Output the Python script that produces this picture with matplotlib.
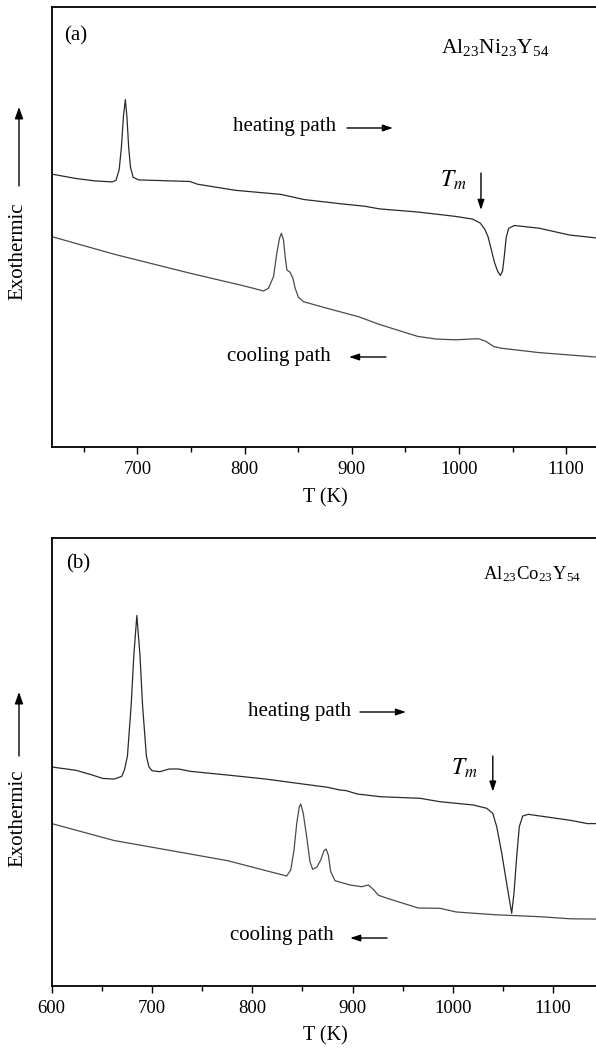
import matplotlib
matplotlib.use("Agg")
import matplotlib.pyplot as plt
from matplotlib.ticker import MultipleLocator

plt.rcParams['font.family'] = ['Liberation Serif', 'DejaVu Serif']
plt.rcParams['mathtext.fontset'] = 'stix'

# ---------------- data (arbitrary heat-flow units) ----------------
# Panel (a) Al23Ni23Y54
a_heat_T = [620, 642.7, 660.4, 676.4, 680.0, 683.0, 685.0, 687.0, 688.7, 690.2, 691.8, 693.5,
            696.0, 701.1, 749.0, 756.0, 791.4, 833.9, 855.1, 890.6, 911.8, 925.9, 961.4,
            996.7, 1012.7, 1019.8, 1024.0, 1027.0, 1030.0, 1033.0, 1036.0, 1038.5, 1040.5,
            1042.1, 1044.0, 1046.3, 1051.6, 1074.6, 1103.0, 1131.0]
a_heat_S = [273.2, 268.8, 266.4, 265.4, 267.0, 278.0, 300.0, 332.0, 347.6, 330.0, 300.0, 280.0,
            270.0, 267.4, 265.8, 263.1, 257.0, 252.9, 247.8, 243.4, 241.1, 238.4, 235.3,
            230.9, 228.2, 224.2, 218.0, 210.7, 198.0, 185.0, 176.0, 171.8, 176.0,
            190.0, 210.0, 219.0, 221.8, 219.1, 212.3, 209.0]

a_cool_T = [620, 678.2, 749.0, 795.8, 808.2, 817.5, 822.2, 826.9, 830.0, 832.5, 834.3, 836.2,
            837.8, 839.4, 842.4, 845.0, 847.1, 850.2, 854.9, 873.5, 906.2, 925.9, 961.4,
            979.1, 996.7, 1018.0, 1025.1, 1032.2, 1039.2, 1074.6, 1131.0]
a_cool_S = [210.7, 193.1, 174.1, 162.3, 159.0, 156.3, 159.0, 170.6, 194.0, 209.0, 214.0, 207.3,
            190.6, 177.3, 175.0, 169.0, 159.0, 150.0, 145.6, 140.0, 130.6, 122.8, 110.9,
            108.2, 107.5, 108.6, 105.9, 100.8, 99.1, 94.7, 90.0]

# Panel (b) Al23Co23Y54
b_heat_T = [600, 624.3, 639.4, 650.8, 662.2, 669.8, 672.5, 675.5, 679.2, 681.9, 684.9, 688.0,
            690.6, 694.4, 697.0, 700.1, 707.7, 717.1, 726.6, 738.0, 775.9, 813.8, 851.7,
            874.5, 887.4, 893.4, 904.8, 927.5, 967.2, 987.1, 1020.3, 1033.7, 1039.7, 1043.7,
            1048.7, 1053.6, 1058.6, 1060.9, 1063.6, 1066.2, 1069.6, 1075.2, 1086.8, 1117.1,
            1134.2, 1147.0]
b_heat_S = [219.0, 215.7, 211.3, 207.6, 206.9, 209.6, 216.0, 229.8, 280.4, 331.0, 370.5, 331.0,
            280.4, 229.8, 219.0, 215.3, 214.3, 217.0, 217.0, 214.7, 210.9, 206.9, 201.8,
            198.8, 196.0, 195.4, 192.0, 189.3, 187.7, 184.3, 181.0, 177.7, 172.7, 159.3,
            132.7, 102.7, 72.7, 92.7, 129.3, 159.3, 170.0, 171.7, 170.0, 165.7,
            162.4, 162.4]

b_cool_T = [600, 662.2, 738.0, 775.9, 817.6, 834.3, 838.3, 841.6, 844.3, 846.9, 848.3, 850.8,
            854.2, 857.5, 860.2, 864.2, 868.2, 871.5, 873.5, 875.8, 878.2, 882.5, 897.4,
            909.1, 915.7, 920.6, 925.6, 935.1, 965.5, 987.1, 1003.4, 1041.3, 1086.8, 1117.1,
            1147.0]
b_cool_S = [162.4, 145.5, 132.0, 125.2, 114.3, 110.0, 116.0, 136.0, 162.7, 179.3, 182.0, 172.7,
            149.3, 124.3, 116.7, 118.7, 126.0, 135.3, 137.0, 131.0, 114.3, 105.3, 101.0,
            99.3, 101.0, 96.7, 90.8, 87.5, 78.0, 77.7, 74.0, 71.3, 69.3, 67.2,
            66.9]

xlabel = 'T (K)'
ylabel = 'Exothermic'
formula_a = r'Al$_{\mathregular{23}}$Ni$_{\mathregular{23}}$Y$_{\mathregular{54}}$'
formula_b = r'Al$_{\mathregular{23}}$Co$_{\mathregular{23}}$Y$_{\mathregular{54}}$'

W, H = 596, 1049
fig = plt.figure(figsize=(W / 100, H / 100), dpi=100)

def make_axes(left_px, top_px, bottom_px, right_px, xmin, px_per_k):
    ax = fig.add_axes([left_px / W, 1 - bottom_px / H, (right_px - left_px) / W,
                       (bottom_px - top_px) / H])
    ax.set_xlim(xmin, xmin + (right_px - left_px) / px_per_k)
    ax.set_ylim(0, bottom_px - top_px)
    ax.set_yticks([])
    ax.spines['right'].set_visible(False)
    for s in ax.spines.values():
        s.set_linewidth(1.3)
    ax.xaxis.set_major_locator(MultipleLocator(100))
    ax.xaxis.set_minor_locator(MultipleLocator(50))
    ax.tick_params(axis='x', which='major', direction='out', length=5, width=1,
                   labelsize=13.5, pad=5)
    ax.tick_params(axis='x', which='minor', direction='out', length=3.5, width=1)
    ax.set_xlabel(xlabel, fontsize=14.5, labelpad=7)
    return ax

ax1 = make_axes(51.7, 7.0, 447.3, 600, 620, 1.072)
ax2 = make_axes(51.7, 537.7, 986.0, 600, 600, 1.003)

ax1.plot(a_heat_T, a_heat_S, color='#2a2a2a', lw=0.9)
ax1.plot(a_cool_T, a_cool_S, color='#4a4a4a', lw=0.9)
ax2.plot(b_heat_T, b_heat_S, color='#2a2a2a', lw=0.9)
ax2.plot(b_cool_T, b_cool_S, color='#4a4a4a', lw=0.9)

arrow_kw = dict(arrowstyle='-|>,head_length=0.6,head_width=0.2', color='black', lw=1.0,
                shrinkA=0, shrinkB=0)

def annotate(ax, label, formula, heat_xy, heat_arr, tm_xy, tm_arr, cool_xy, cool_arr,
             lab_xy, form_xy, form_size, form_ha):
    t = ax.transAxes
    ax.text(*lab_xy, label, transform=t, fontsize=15, ha='center', va='center')
    ax.text(*form_xy, formula, transform=t, fontsize=form_size, ha=form_ha, va='center')
    ax.text(*heat_xy, 'heating path', transform=t, fontsize=15, ha='center', va='center')
    ax.annotate('', xy=heat_arr[1], xytext=heat_arr[0], xycoords=t, textcoords=t, arrowprops=arrow_kw)
    ax.text(*tm_xy, r'$T_m$', transform=t, fontsize=17, ha='center', va='center')
    ax.annotate('', xy=tm_arr[1], xytext=tm_arr[0], xycoords=t, textcoords=t, arrowprops=arrow_kw)
    ax.text(*cool_xy, 'cooling path', transform=t, fontsize=15, ha='center', va='center')
    ax.annotate('', xy=cool_arr[1], xytext=cool_arr[0], xycoords=t, textcoords=t, arrowprops=arrow_kw)

annotate(ax1, '(a)', formula_a,
         (0.4246, 0.7275), ((0.5386, 0.7252), (0.6224, 0.7252)),
         (0.732, 0.607), ((0.7829, 0.623), (0.7829, 0.539)),
         (0.4136, 0.2051), ((0.6096, 0.2051), (0.5422, 0.2051)),
         (0.0443, 0.935), (0.710, 0.909), 15.5, 'left')
annotate(ax2, '(b)', formula_b,
         (0.452, 0.6112), ((0.5623, 0.6112), (0.6462, 0.6112)),
         (0.752, 0.4863), ((0.8045, 0.513), (0.8045, 0.4336)),
         (0.4191, 0.1124), ((0.6115, 0.107), (0.5442, 0.107)),
         (0.048, 0.9413), (0.966, 0.919), 13.5, 'right')

# y labels with arrows (figure coords)
for cy, a0, a1 in [(0.7607, 0.8227, 0.898), (0.2195, 0.2793, 0.3403)]:
    fig.text(18 / W, cy, ylabel, rotation=90, fontsize=15, ha='center', va='center')
    fig.add_artist(matplotlib.patches.FancyArrowPatch(
        (19 / W, a0), (19 / W, a1), transform=fig.transFigure,
        arrowstyle='-|>,head_length=7,head_width=2.5', color='black', lw=1.0,
        shrinkA=0, shrinkB=0))

fig.savefig('out.png', dpi=100)
